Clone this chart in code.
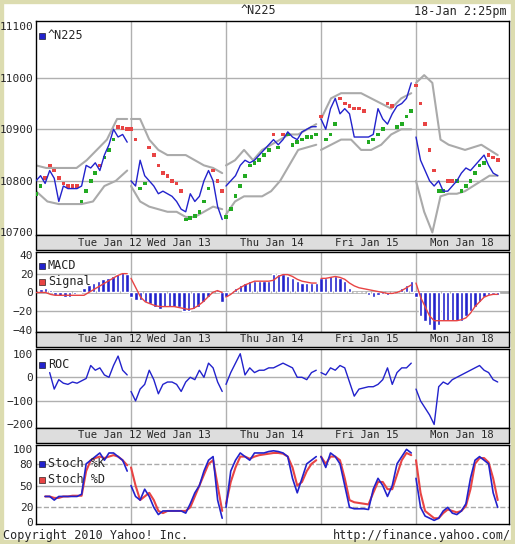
import numpy as np, pandas as pd, seaborn as sns, matplotlib
matplotlib.use("Agg")
import matplotlib.pyplot as plt
from matplotlib.patches import Rectangle

sns.set_style("white")
plt.rcParams['font.family'] = ['DejaVu Sans Mono']

days = ["Tue Jan 12", "Wed Jan 13", "Thu Jan 14", "Fri Jan 15", "Mon Jan 18"]
label_pos = [0.78, 1.5, 2.48, 3.48, 4.48]
end_frac = [0.96, 0.96, 0.95, 0.95, 0.86]

price = [
 [10800,10810,10795,10820,10805,10760,10790,10785,10785,10785,10790,10830,10825,10835,10820,10850,10870,10900,10885,10890,10875],
 [10800,10790,10840,10810,10800,10790,10775,10780,10775,10770,10760,10745,10740,10775,10760,10770,10800,10820,10800,10750,10725],
 [10790,10800,10810,10830,10840,10835,10840,10850,10860,10870,10880,10870,10880,10895,10885,10880,10895,10900,10905,10905],
 [10920,10900,10940,10960,10930,10940,10930,10885,10885,10885,10885,10890,10940,10920,10910,10930,10945,10950,10960,10990],
 [10885,10840,10820,10800,10790,10800,10780,10780,10790,10800,10815,10825,10820,10830,10840,10850,10830,10815,10810]]
upper = [
 [10830,10825,10825,10825,10825,10840,10860,10880,10920,10920],
 [10920,10920,10880,10860,10850,10850,10850,10840,10830,10825,10815],
 [10830,10840,10860,10840,10860,10870,10880,10890,10890,10900,10910],
 [10920,10960,10970,10970,10970,10960,10950,10940,10960,10970],
 [10990,11005,10990,10880,10870,10865,10860,10865,10870,10860,10850]]
lower = [
 [10780,10760,10755,10755,10755,10760,10790,10800,10820],
 [10790,10760,10750,10745,10740,10740,10730,10730,10740,10750,10745],
 [10735,10760,10770,10770,10770,10780,10800,10830,10860,10865,10870],
 [10860,10870,10880,10880,10860,10860,10870,10890,10900,10900],
 [10800,10740,10700,10770,10775,10775,10780,10790,10800,10810,10810]]
sar = [
 [10775,10790,10805,10830,10820,10805,10795,10790,10790,10790,10760,10780,10800,10815,10830,10845,10860,10880,10905,10902,10900],
 [10900,10880,10785,10795,10865,10850,10830,10815,10810,10800,10795,10780,10725,10728,10732,10740,10760,10785,10820,10800,10780],
 [10730,10745,10770,10790,10810,10830,10835,10840,10850,10860,10890,10865,10890,10890,10870,10875,10880,10885,10885,10890],
 [10925,10880,10890,10910,10960,10950,10945,10940,10940,10935,10875,10880,10890,10900,10950,10945,10905,10910,10925,10935],
 [10985,10950,10910,10860,10820,10780,10780,10800,10800,10800,10780,10790,10800,10815,10830,10835,10850,10845,10840]]
macd = [
 [3,4,5,3,-3,-4,-5,-5,-2,-1,5,8,10,12,14,15,18,20,22,20],
 [-5,-8,-8,-10,-12,-15,-18,-15,-15,-15,-15,-20,-20,-18,-15,-10,-5,0,3,-10],
 [-5,2,5,8,10,12,12,12,12,12,20,20,20,18,15,12,10,10,10,10],
 [15,15,17,18,15,12,5,0,0,0,-3,-5,-3,-2,-3,-2,0,5,8,12],
 [-5,-25,-30,-35,-40,-35,-30,-30,-30,-30,-30,-25,-20,-15,-10,-5,-3,-2,-3]]
signal = [
 [0,0,0,-2,-3,-3,-3,-3,-3,-3,-3,0,3,6,9,12,15,18,20,20],
 [15,5,-5,-10,-12,-14,-15,-15,-15,-15,-16,-17,-18,-17,-14,-10,-5,0,2,0],
 [-5,-2,2,5,8,10,12,12,12,12,13,17,19,19,17,14,12,11,10,10],
 [15,15,16,17,16,14,10,7,5,4,3,2,1,0,-1,-1,0,2,5,8],
 [10,-5,-15,-25,-30,-30,-30,-30,-30,-30,-29,-27,-22,-15,-10,-5,-3,-2,-2]]
roc = [
 [np.nan,np.nan,np.nan,20,-50,-10,-25,-30,-20,-25,-15,-5,50,30,40,10,0,50,90,30,10],
 [-60,-100,-50,-30,30,-10,-70,-30,-20,-20,-30,-60,-20,0,-10,30,0,60,40,-20,-60],
 [-30,20,60,100,10,40,20,30,30,40,40,50,60,50,40,0,0,-10,20,30],
 [20,10,40,30,50,40,-20,-80,-50,-45,-40,-40,-30,-10,40,-30,20,40,40,60],
 [-50,-100,-130,-160,-200,-40,-20,-30,-10,0,10,20,30,40,50,30,20,-10,-20]]
stoch_k = [
 [np.nan,np.nan,35,35,30,35,35,35,35,35,38,80,85,90,95,85,95,95,90,85,70],
 [50,35,30,45,35,20,10,15,15,15,15,15,12,25,40,50,70,85,90,30,5],
 [20,70,85,95,90,85,95,95,95,97,98,97,95,90,60,40,60,80,85,90],
 [90,75,95,90,80,50,20,18,18,18,17,45,60,50,35,50,80,90,100,95],
 [60,20,8,5,2,5,15,20,12,10,15,25,60,85,90,85,80,40,20]]
stoch_d = [
 [np.nan,np.nan,35,35,33,33,35,35,36,36,36,70,85,88,90,88,90,92,90,85,78],
 [75,50,30,35,40,30,15,12,15,15,15,15,15,20,35,50,65,80,85,50,15],
 [25,55,75,90,90,87,90,92,93,94,95,95,94,90,75,50,55,70,80,85],
 [90,80,90,90,85,60,30,27,26,25,24,40,55,55,45,45,65,85,95,92],
 [85,40,15,10,5,5,12,17,15,13,15,22,45,80,88,88,82,60,30]]

def frame(series):
    rows = []
    for d, vals in enumerate(series):
        xs = d + np.linspace(0, end_frac[d], len(vals))
        for x, v in zip(xs, vals):
            rows.append((d, x, v))
    return pd.DataFrame(rows, columns=["day", "x", "y"])

W, H = 515, 544
fig = plt.figure(figsize=(W/100, H/100), dpi=100, facecolor="white")
fig.patches.append(Rectangle((0, 0), 1, 1, transform=fig.transFigure, fill=False,
                             edgecolor="#dcdcb0", linewidth=6, zorder=-1))
L, Wd = 36/W, 473/W
def mk(top, bot):
    return fig.add_axes([L, 1-bot/H, Wd, (bot-top)/H])
ax1 = mk(21, 235); ax2 = mk(252, 332); ax3 = mk(349, 428); ax4 = mk(445, 524)
BLUE, RED, GREEN, GRAY = "#2222cc", "#e84444", "#22aa22", "#aaaaaa"

for ax in (ax1, ax2, ax3, ax4):
    ax.set_xlim(0, 473/95)
    for d in range(1, 5):
        ax.axvline(d, color="#b0b0b0", lw=1, zorder=0)
    ax.set_xticks([])
    for s in ax.spines.values():
        s.set_color("black"); s.set_linewidth(1)
    ax.tick_params(axis="y", labelsize=8, length=0, pad=2)

for top, bot in ((235, 250), (332, 347), (428, 443)):
    fig.patches.append(Rectangle((L, 1-bot/H), Wd, (bot-top)/H, transform=fig.transFigure,
                                 facecolor="#dddddd", edgecolor="black", lw=1, zorder=1))
    for lp, dl in zip(label_pos, days):
        fig.text(L + lp*95/W, 1-(top+bot)/2/H, dl, ha="center", va="center", fontsize=7.6, zorder=5)

def legend(ax, items, y0=0.93, dy=0.2):
    for i, (c, t) in enumerate(items):
        ax.plot([0.012], [y0-i*dy], "s", color=c, ms=5, mec="black", mew=0.4, transform=ax.transAxes, clip_on=False)
        ax.text(0.025, y0-i*dy, t, transform=ax.transAxes, va="center", fontsize=8.5)

ax1.set_ylim(10695, 11110)
ax1.set_yticks([10700, 10800, 10900, 11000, 11100])
for v in (10800, 10900, 11000):
    ax1.axhline(v, color="#b0b0b0", lw=1, zorder=0)
sns.lineplot(data=frame(upper), x="x", y="y", units="day", estimator=None, color=GRAY, lw=1.5, ax=ax1)
sns.lineplot(data=frame(lower), x="x", y="y", units="day", estimator=None, color=GRAY, lw=1.5, ax=ax1)
pf = frame(price); sf = frame(sar)
sf["side"] = np.where(sf["y"] > pf["y"], "above", "below")
sns.scatterplot(data=sf, x="x", y="y", hue="side", palette={"above": RED, "below": GREEN},
                marker="s", s=7, linewidth=0, legend=False, ax=ax1, zorder=3)
sns.lineplot(data=pf, x="x", y="y", units="day", estimator=None, color=BLUE, lw=1, ax=ax1, zorder=4)
legend(ax1, [(BLUE, "^N225")], y0=0.93)

ax2.set_ylim(-42, 43)
ax2.set_yticks([-40, -20, 0, 20, 40])
for v in (-20, 20):
    ax2.axhline(v, color="#b0b0b0", lw=1, zorder=0)
ax2.axhline(0, color="#aaaaaa", lw=2, zorder=0)
mf = frame(macd)
ax2.bar(mf["x"], mf["y"], width=0.036, color=BLUE, zorder=2)
sns.lineplot(data=frame(signal), x="x", y="y", units="day", estimator=None, color=RED, lw=1, ax=ax2, zorder=3)
legend(ax2, [(BLUE, "MACD"), (RED, "Signal")], y0=0.83, dy=0.2)

ax3.set_ylim(-215, 120)
ax3.set_yticks([-200, -100, 0, 100])
for v in (-100, 0):
    ax3.axhline(v, color="#b0b0b0", lw=1, zorder=0)
sns.lineplot(data=frame(roc), x="x", y="y", units="day", estimator=None, color=BLUE, lw=1, ax=ax3)
legend(ax3, [(BLUE, "ROC")], y0=0.8)

ax4.set_ylim(-3, 106)
ax4.set_yticks([0, 20, 50, 80, 100])
ax4.axhline(50, color="#b0b0b0", lw=1, zorder=0)
for v in (20, 80):
    ax4.axhline(v, color="#aaaaaa", lw=1, ls="--", zorder=0)
sns.lineplot(data=frame(stoch_d), x="x", y="y", units="day", estimator=None, color=RED, lw=1.5, ax=ax4)
sns.lineplot(data=frame(stoch_k), x="x", y="y", units="day", estimator=None, color=BLUE, lw=1.2, ax=ax4)
legend(ax4, [(BLUE, "Stoch %K"), (RED, "Stoch %D")], y0=0.76, dy=0.2)

for ax in (ax1, ax2, ax3, ax4):
    ax.set_xlabel(""); ax.set_ylabel("")

fig.text(258/W, 1-11/H, "^N225", ha="center", va="center", fontsize=8.5)
fig.text(507/W, 1-11/H, "18-Jan 2:25pm", ha="right", va="center", fontsize=8.5)
fig.text(3/W, 1-535/H, "Copyright 2010 Yahoo! Inc.", ha="left", va="center", fontsize=8.5)
fig.text(511/W, 1-535/H, "http://finance.yahoo.com/", ha="right", va="center", fontsize=8.5)

fig.savefig("out.png", dpi=100, facecolor="white")
